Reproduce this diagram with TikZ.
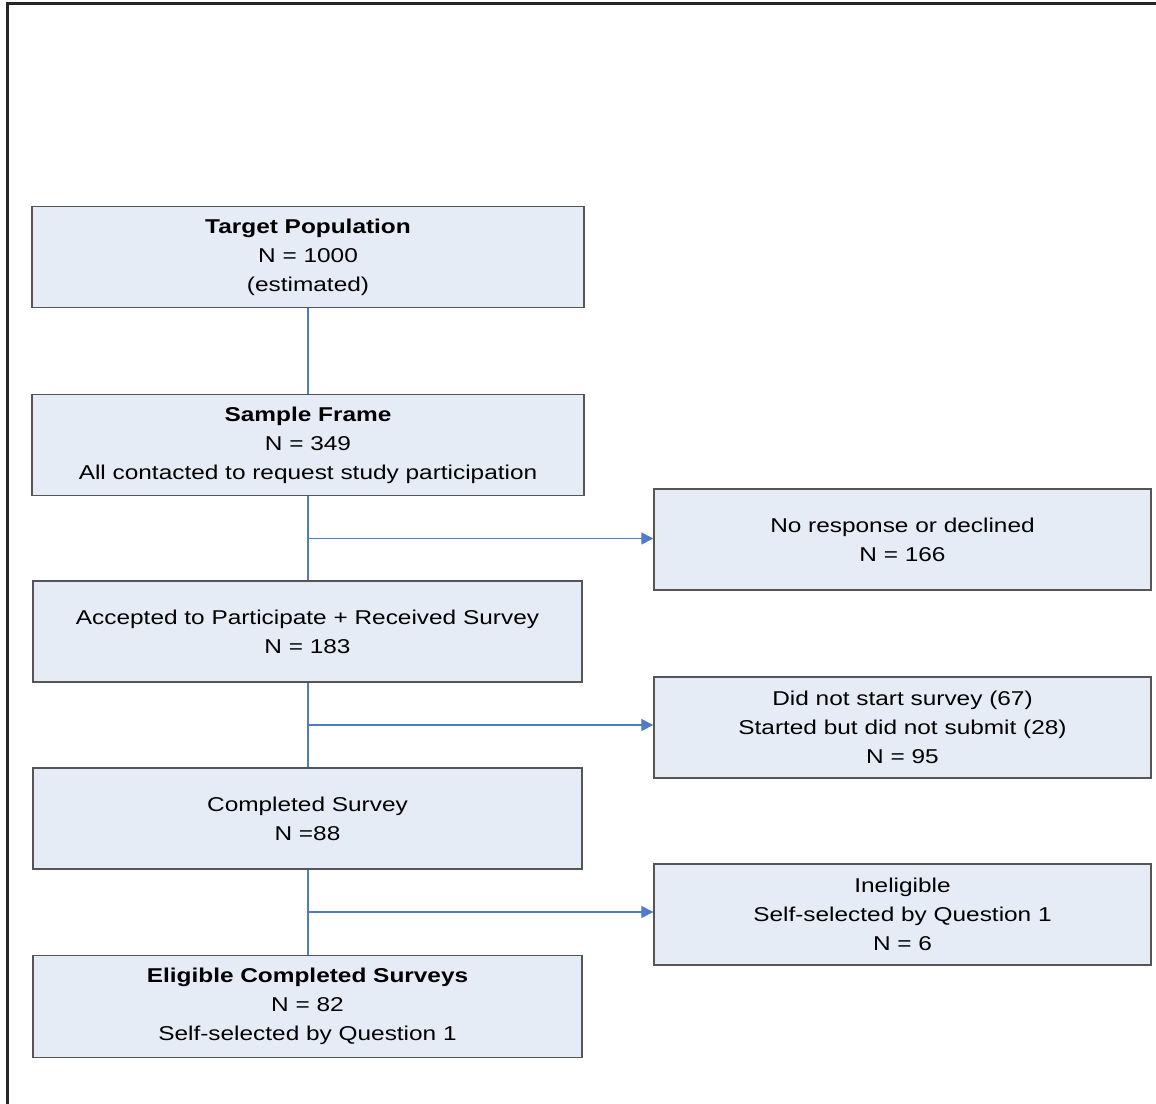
\documentclass[tikz,border=0pt]{standalone}
\usepackage{fontspec}
\setmainfont{Liberation Sans}[FakeStretch=1.22]
\usetikzlibrary{arrows.meta}
\definecolor{boxfill}{RGB}{230,236,246}
\definecolor{boxline}{RGB}{85,85,85}
\definecolor{linkblue}{RGB}{79,123,199}
\tikzset{
  flowbox/.style={draw=boxline, fill=boxfill, line width=1pt, align=center, inner sep=0pt,
    font=\fontsize{15}{21.75}\selectfont},
  mainbox/.style={flowbox, minimum width=414pt, minimum height=75.75pt},
  sidebox/.style={flowbox, minimum width=372.75pt, minimum height=75.75pt},
  link/.style={draw=linkblue, line width=0.9pt},
  arrowlink/.style={link, -{Triangle[length=9pt,width=9pt]}}
}
\begin{document}
\begin{tikzpicture}[x=0.75pt,y=-0.75pt]
\useasboundingbox (0,0) rectangle (1156,1103);
% outer frame (partially visible)
\draw[line width=1.6pt, black!85] (7.5,1110) -- (7.5,3.5) -- (1160,3.5);

\node[mainbox] (tp) at (308,257) {\textbf{Target Population}\\N = 1000\\(estimated)};
\node[mainbox] (sf) at (308,445) {\textbf{Sample Frame}\\N = 349\\All contacted to request study participation};
\node[mainbox, minimum width=411.75pt] (ac) at (307.5,631.5) {Accepted to Participate + Received Survey\\N = 183};
\node[mainbox, minimum width=411.75pt] (cs) at (307.5,818.5) {Completed Survey\\N =88};
\node[mainbox, minimum width=411.75pt, minimum height=76.5pt] (ec) at (307.5,1006.5) {\textbf{Eligible Completed Surveys}\\N = 82\\Self-selected by Question 1};

\node[sidebox] (nr) at (902.5,539.5) {No response or declined\\N = 166};
\node[sidebox] (ds) at (902.5,727.5) {Did not start survey (67)\\Started but did not submit (28)\\N = 95};
\node[sidebox] (ie) at (902.5,914.5) {Ineligible\\Self-selected by Question 1\\N = 6};

\coordinate (b1) at (308,538.5);
\coordinate (b2) at (308,725);
\coordinate (b3) at (308,912);

\draw[link] (tp.south) -- (sf.north);
\draw[link] (sf.south) -- (sf.south |- ac.north);
\draw[link] (sf.south |- ac.south) -- (sf.south |- cs.north);
\draw[link] (sf.south |- cs.south) -- (sf.south |- ec.north);

\draw[arrowlink] (b1) -- (nr.west |- b1);
\draw[arrowlink] (b2) -- (ds.west |- b2);
\draw[arrowlink] (b3) -- (ie.west |- b3);
\end{tikzpicture}
\end{document}
